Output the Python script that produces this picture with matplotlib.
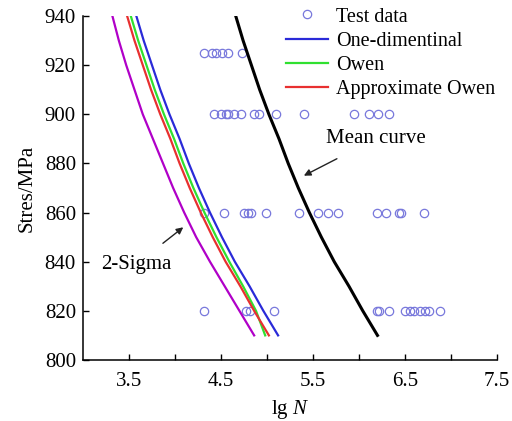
import matplotlib
matplotlib.use("Agg")
import matplotlib.pyplot as plt
from matplotlib.ticker import MultipleLocator, FixedLocator

plt.rcParams["font.family"] = ["Liberation Serif", "DejaVu Serif"]
plt.rcParams["mathtext.fontset"] = "custom"
plt.rcParams["mathtext.it"] = "Liberation Serif:italic"
plt.rcParams["mathtext.rm"] = "Liberation Serif"

# ---- 試驗數據 (應力 MPa, lgN) ----
test_925 = [4.31, 4.40, 4.45, 4.51, 4.58, 4.73]
test_900 = [4.42, 4.50, 4.55, 4.58, 4.64, 4.72, 4.86, 4.91, 5.10, 5.40, 5.95, 6.11, 6.21, 6.32]
test_860 = [4.31, 4.53, 4.75, 4.79, 4.83, 4.99, 5.35, 5.55, 5.66, 5.77, 6.20, 6.29, 6.43, 6.46, 6.70]
test_820 = [4.31, 4.77, 4.81, 5.08, 6.19, 6.22, 6.32, 6.50, 6.55, 6.60, 6.66, 6.72, 6.76, 6.88]

# ---- 曲線 ----
stress = [940, 930, 920, 910, 900, 890, 880, 870, 860, 850, 840, 830, 820, 810]
mean_curve = [4.66, 4.74, 4.83, 4.92, 5.02, 5.13, 5.23, 5.34, 5.46, 5.59, 5.73, 5.89, 6.04, 6.20]
one_dim = [3.58, 3.66, 3.75, 3.84, 3.94, 4.05, 4.15, 4.26, 4.38, 4.51, 4.65, 4.81, 4.96, 5.12]
owen = [3.52, 3.60, 3.69, 3.78, 3.88, 3.99, 4.09, 4.20, 4.32, 4.45, 4.59, 4.74, 4.88, 4.98]
approx_owen = [3.48, 3.56, 3.65, 3.74, 3.84, 3.95, 4.05, 4.16, 4.28, 4.41, 4.55, 4.71, 4.86, 5.02]
two_sigma = [3.32, 3.39, 3.47, 3.56, 3.65, 3.76, 3.87, 3.98, 4.10, 4.23, 4.38, 4.54, 4.70, 4.86]

MK = "#7878dc"
FS = 15

fig = plt.figure(figsize=(5.12, 4.21), dpi=100)
ax = fig.add_axes([0.162, 0.145, 0.809, 0.817])

xs, ys = [], []
for s, row in ((925, test_925), (900, test_900), (860, test_860), (820, test_820)):
    xs += row
    ys += [s] * len(row)
ax.plot(xs, ys, "o", ls="none", mfc="none", mec=MK, ms=6, mew=0.9, label="Test data", zorder=2)

ax.plot(one_dim, stress, color="#2a2ad8", lw=1.6, label="One-dimentinal", zorder=3)
ax.plot(owen, stress, color="#30e030", lw=1.6, label="Owen", zorder=3)
ax.plot(approx_owen, stress, color="#e83030", lw=1.6, label="Approximate Owen", zorder=3)
ax.plot(two_sigma, stress, color="#b000c8", lw=1.6, zorder=3)
ax.plot(mean_curve, stress, color="black", lw=2.2, zorder=3)

ax.annotate("Mean curve", xy=(5.40, 875), xytext=(6.18, 890), fontsize=FS,
            ha="center", va="center",
            arrowprops=dict(arrowstyle="-|>", color="#222222", lw=1, mutation_scale=10,
                            shrinkA=12, shrinkB=0))
ax.annotate("2-Sigma", xy=(4.09, 854), xytext=(3.58, 839), fontsize=FS,
            ha="center", va="center",
            arrowprops=dict(arrowstyle="-|>", color="#222222", lw=1, mutation_scale=10,
                            shrinkA=10, shrinkB=0))

ax.set_xlim(3.0, 7.5)
ax.set_ylim(800, 940)
ax.xaxis.set_major_locator(FixedLocator([3.5, 4.5, 5.5, 6.5, 7.5]))
ax.xaxis.set_minor_locator(FixedLocator([4.0, 5.0, 6.0, 7.0]))
ax.yaxis.set_major_locator(MultipleLocator(20))
ax.tick_params(which="both", direction="in", length=4, width=1, labelsize=FS)
ax.tick_params(axis="x", pad=9)
ax.tick_params(axis="y", pad=5)
for s in ("top", "right"):
    ax.spines[s].set_visible(False)
for s in ("left", "bottom"):
    ax.spines[s].set_linewidth(1.1)

ax.set_xlabel(r"lg $\mathit{N}$", fontsize=FS, labelpad=5)
ax.set_ylabel("Stres/MPa", fontsize=FS, labelpad=6)

lg = ax.legend(loc="upper right", bbox_to_anchor=(1.025, 1.06), frameon=False, fontsize=14.5,
               handlelength=2.1, handletextpad=0.4, labelspacing=0.25, borderaxespad=0.2)

fig.savefig("out.png", dpi=100)
